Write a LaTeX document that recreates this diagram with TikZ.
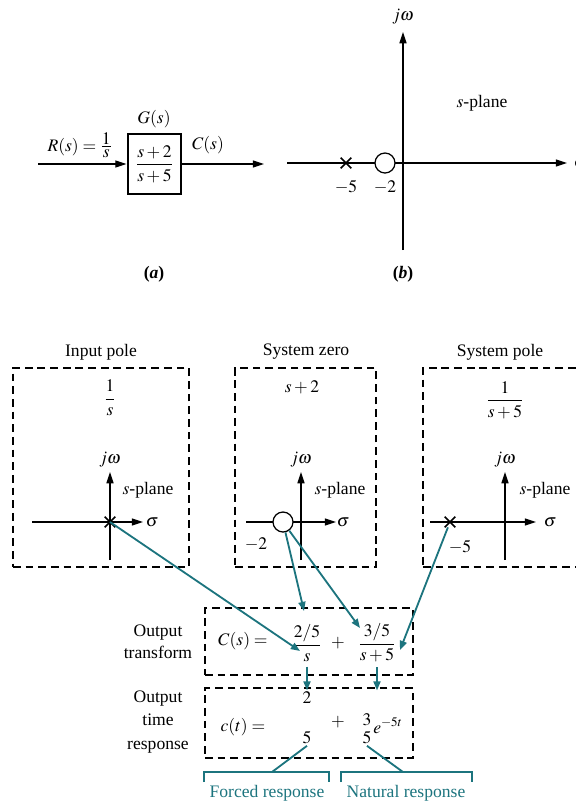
\documentclass[tikz,border=0pt]{standalone}
\usepackage{amsmath}
\usepackage{mathptmx}
\usepackage{fontspec}
\setmainfont{Liberation Serif}
\usetikzlibrary{arrows.meta,shapes.misc}
\definecolor{tealline}{RGB}{28,116,126}

\begin{document}
\begin{tikzpicture}[x=0.025cm, y=-0.025cm, font=\fontsize{12.5}{15}\selectfont,
  ax/.style={line width=0.9pt, -{Triangle[length=8pt,width=5pt]}},
  lig/.style={draw=tealline, line width=1.3pt, -{Triangle[length=6.5pt,width=5pt]}},
  cx/.style={draw, dash pattern=on 5.5pt off 3.5pt, line width=0.9pt, inner sep=0pt},
  polo/.style={draw, cross out, line width=1.1pt, minimum size=6.5pt, inner sep=0pt},
  zero/.style={draw, circle, fill=white, line width=0.9pt, minimum size=0.5cm, inner sep=0pt},
  dig/.style={inner sep=1pt},
  brk/.style={draw=tealline, line width=2pt},
  resp/.style={text=tealline},
]
  \useasboundingbox (0,0) rectangle (576,805);

  % (a) bloco G(s)
  \node[draw, line width=2pt, minimum width=1.325cm, minimum height=1.5cm, inner sep=0pt] (G) at (154.5,164) {$\dfrac{s+2}{s+5}$};
  \coordinate (ain) at (38,164);
  \coordinate (aout) at (264,164);
  \draw[ax] (ain) -- (G.west);
  \draw[ax] (G.east) -- (aout);
  \node (Gs) at (154,119) {$G(s)$};
  \node (Rs) at (80,145) {$R(s)=\frac{\textstyle 1}{\textstyle s}$};
  \node (Cs) at (208,145) {$C(s)$};
  \node (la) at (154,274) {\textbf{(\textit{a})}};

  % (b) plano s
  \coordinate (bw) at (287,163); \coordinate (be) at (567,163);
  \coordinate (bs) at (403,250); \coordinate (bn) at (403,32);
  \draw[ax] (bw) -- (be);
  \draw[ax] (bs) -- (bn);
  \node (bjw) at (403,17) {$j\omega$};
  \node[anchor=west] (bsig) at (569,163) {$\sigma$};
  \node[polo] (bp) at (346,163) {};
  \node[zero] (bz) at (385,163) {};
  \node (bm5) at (346,187) {$-5$};
  \node (bm2) at (385,187) {$-2$};
  \node (bsp) at (482,103) {$s$-plane};
  \node (lb) at (403,274) {\textbf{(\textit{b})}};

  % caixas de cima
  \node[cx, minimum width=4.4cm, minimum height=4.975cm] (cxip) at (101,467.5) {};
  \node[cx, minimum width=3.525cm, minimum height=4.975cm] (cxsz) at (305.5,467.5) {};
  \node[cx, minimum width=3.85cm, minimum height=4.975cm] (cxsp) at (500,467.5) {};
  \node (tip) at (101,352) {Input pole};
  \node (tsz) at (306,352) {System zero};
  \node (tsp) at (500,352) {System pole};
  \node (fip) at (110,398) {$\dfrac{1}{s}$};
  \node (fsz) at (302,387) {$s+2$};
  \node (fsp) at (505,400) {$\dfrac{1}{s+5}$};

  % polo de entrada
  \coordinate (ipw) at (32,522); \coordinate (ipe) at (143,522);
  \coordinate (ips) at (110,560); \coordinate (ipn) at (110,472);
  \draw[ax] (ipw) -- (ipe);
  \draw[ax] (ips) -- (ipn);
  \node (ipjw) at (110,460) {$j\omega$};
  \node (ipsig) at (152,522) {$\sigma$};
  \node (ipsp) at (148,490) {$s$-plane};
  \node[polo] (ipx) at (110,522) {};

  % zero do sistema
  \coordinate (szw) at (246,522); \coordinate (sze) at (336,522);
  \coordinate (szs) at (301,560); \coordinate (szn) at (301,472);
  \draw[ax] (szw) -- (sze);
  \draw[ax] (szs) -- (szn);
  \node (szjw) at (301,460) {$j\omega$};
  \node (szsig) at (343,522) {$\sigma$};
  \node (szsp) at (340,490) {$s$-plane};
  \node[zero] (szo) at (283,522) {};
  \node (szm2) at (256,544) {$-2$};

  % polo do sistema
  \coordinate (spw) at (430,522); \coordinate (spe) at (536,522);
  \coordinate (sps) at (505,560); \coordinate (spn) at (505,472);
  \draw[ax] (spw) -- (spe);
  \draw[ax] (sps) -- (spn);
  \node (spjw) at (505,460) {$j\omega$};
  \node (spsig) at (550,522) {$\sigma$};
  \node (spsp) at (545,490) {$s$-plane};
  \node[polo] (spx) at (450,522) {};
  \node (spm5) at (460,547) {$-5$};

  % caixas de baixo
  \node[cx, minimum width=5.2cm, minimum height=1.675cm] (cxot) at (309,641.5) {};
  \node[cx, minimum width=5.2cm, minimum height=1.75cm] (cxtr) at (309,723) {};
  \node[align=center, font=\fontsize{12.5}{16}\selectfont] (lot) at (158,642) {Output\\transform};
  \node[align=center, font=\fontsize{12.5}{16.5}\selectfont] (ltr) at (158,722) {Output\\time\\response};
  \node (Cse) at (243,641) {$C(s)=$};
  \node (f1) at (307,643) {$\dfrac{2/5}{s}$};
  \node (pl1) at (338,643) {$+$};
  \node (f2) at (377,643) {$\dfrac{3/5}{s+5}$};
  \node (cte) at (243,727) {$c(t)=$};
  \node[dig] (n2) at (307,698) {$2$};
  \node[dig] (n5) at (307,738) {$5$};
  \node (pl2) at (338,722) {$+$};
  \node[dig] (n3) at (367,720) {$3$};
  \node[dig] (n5b) at (367,738) {$5$};
  \node[anchor=base west, inner sep=0pt] (ex) at (373,733) {$e^{-5t}$};

  % setas
  \coordinate (c1) at (300,651);
  \coordinate (c2) at (304,611);
  \coordinate (c3) at (360,628);
  \coordinate (c4) at (400,650);
  \draw[lig] (ipx.center) -- (c1);
  \draw[lig] (szo) -- (c2);
  \draw[lig] (szo) -- (c3);
  \draw[lig] (spx) -- (c4);
  \draw[lig] (f1.south) -- (n2.north);
  \draw[lig] (f2.south) -- (f2.south |- n2.north);

  % chavetas
  \coordinate (bfl) at (204,782); \coordinate (bfr) at (329,782);
  \coordinate (bnl) at (341,782); \coordinate (bnr) at (472,782);
  \draw[brk] (bfl) -- ++(0,-10) -| (bfr);
  \draw[brk] (bnl) -- ++(0,-10) -| (bnr);
  \coordinate (mf) at (272,772); \coordinate (mn) at (403,772);
  \draw[draw=tealline, line width=1.3pt] (n5.south) -- (mf);
  \draw[draw=tealline, line width=1.3pt] (n5b.south) -- (mn);
  \node[resp] (tf) at (267,793) {Forced response};
  \node[resp] (tn) at (406,793) {Natural response};
\end{tikzpicture}
\end{document}
